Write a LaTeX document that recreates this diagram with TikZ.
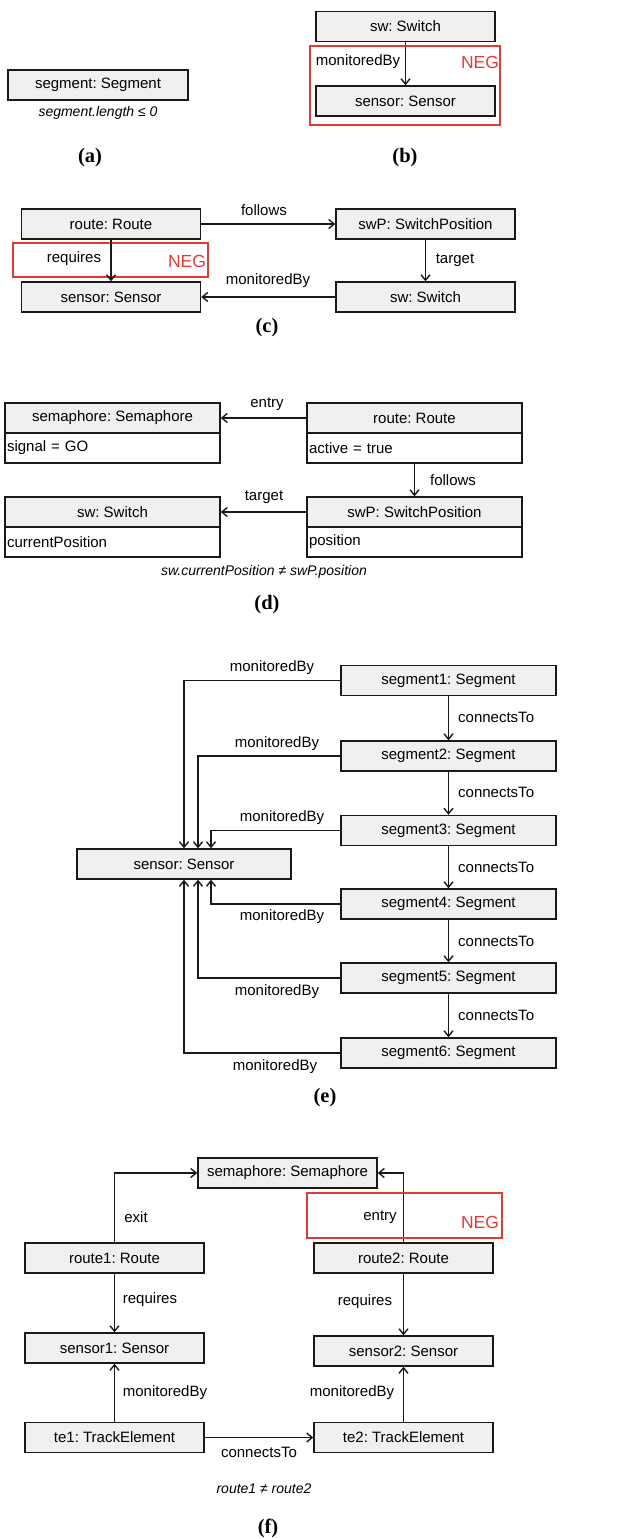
\documentclass[tikz,border=0pt]{standalone}
\usepackage{fontspec}
\setmainfont{Liberation Sans}
\newfontfamily\capfont{Liberation Serif}
\usetikzlibrary{arrows.meta}
\definecolor{boxgray}{RGB}{240,240,240}
\definecolor{negred}{RGB}{229,57,53}
\definecolor{ink}{RGB}{25,25,25}

\begin{document}
\frenchspacing
\begin{tikzpicture}[x=1pt,y=-1pt,
  font=\fontsize{15}{18}\selectfont,
  obj/.style={draw=ink, line width=1.4pt, fill=boxgray, minimum width=179pt,
              minimum height=30pt, inner sep=0pt},
  attr/.style={draw=ink, line width=1.4pt, fill=white, minimum height=30pt,
               text width=211pt, inner xsep=2pt, inner ysep=0pt, align=left},
  arr/.style={draw=ink, line width=1.4pt,
              -{Straight Barb[length=5.5pt,width=9pt]}},
  neg/.style={draw=negred, line width=1.4pt},
  negtxt/.style={text=negred, inner sep=0pt, font=\fontsize{17.5}{20}\selectfont},
  lbl/.style={inner sep=0pt},
  cons/.style={inner sep=0pt, font=\fontsize{14}{17}\selectfont\itshape},
  subcap/.style={inner sep=0pt, font=\capfont\bfseries\fontsize{20.5}{24}\selectfont},
]
\useasboundingbox (0,0) rectangle (627,1539);

% ---------- (a) ----------
\node[obj, minimum width=180pt] (aseg) at (98,85) {segment: Segment};
\node[cons] (acons) at (98,113) {segment.length ≤ 0};
\node[subcap] (capa) at (90,158) {(a)};

% ---------- (b) ----------
\node[obj] (bsw) at (405.5,26.5) {sw: Switch};
\node[obj] (bsen) at (405.5,101) {sensor: Sensor};
\draw[arr] (bsw.south) -- (bsen.north);
\node[lbl] (bmon) at (358,62) {monitoredBy};
\draw[neg] (310,46) rectangle (500,125);
\node[negtxt] (bneg) at (480,62) {NEG};
\node[subcap] (capb) at (405,158) {(b)};

% ---------- (c) ----------
\node[obj] (croute) at (111,224) {route: Route};
\node[obj] (cswp) at (425.5,224) {swP: SwitchPosition};
\node[obj] (csen) at (111,297) {sensor: Sensor};
\node[obj] (csw) at (425.5,297) {sw: Switch};
\draw[arr] (croute.east) -- (cswp.west);
\node[lbl] (cfol) at (264,210) {follows};
\draw[neg] (13,243) rectangle (208,277);
\draw[arr] (croute.south) -- (csen.north);
\node[lbl] (creq) at (74,259) {requires};
\node[negtxt] (cneg) at (187,261) {NEG};
\draw[arr] (cswp.south) -- (csw.north);
\node[lbl] (ctar) at (455,260) {target};
\draw[arr] (csw.west) -- (csen.east);
\node[lbl] (cmon) at (268,281) {monitoredBy};
\node[subcap] (capc) at (267,328) {(c)};

% ---------- (d) ----------
\node[obj, minimum width=215pt] (dsem) at (112.5,418) {semaphore: Semaphore};
\node[attr] (dsemA) at (112.5,448) {signal = GO};
\node[obj, minimum width=215pt] (droute) at (414.5,418) {route: Route};
\node[attr] (drouteA) at (414.5,448) {active = true};
\node[obj, minimum width=215pt] (dsw) at (112.5,512) {sw: Switch};
\node[attr] (dswA) at (112.5,542) {currentPosition};
\node[obj, minimum width=215pt] (dswp) at (414.5,512) {swP: SwitchPosition};
\node[attr] (dswpA) at (414.5,542) {position};
\draw[arr] (droute.west) -- (dsem.east);
\node[lbl] (dent) at (267,404) {entry};
\draw[arr] (drouteA.south) -- (dswp.north);
\node[lbl] (dfol) at (453,480) {follows};
\draw[arr] (dswp.west) -- (dsw.east);
\node[lbl] (dtar) at (264,497) {target};
\node[cons] (dcons) at (264,572) {sw.currentPosition ≠ swP.position};
\node[subcap] (capd) at (267,605) {(d)};

% ---------- (e) ----------
\foreach \i/\y in {1/680.5, 2/756, 3/830.5, 4/904, 5/978, 6/1053}
  \node[obj, minimum width=215pt] (eseg\i) at (448.5,\y) {segment\i: Segment};
\node[obj, minimum width=214pt] (esen) at (184,864) {sensor: Sensor};
\foreach \a/\b/\y in {1/2/717, 2/3/792, 3/4/867, 4/5/941, 5/6/1015}{
  \draw[arr] (eseg\a.south) -- (eseg\b.north);
  \node[lbl, anchor=west] (econ\a) at (458,\y) {connectsTo};
}
\draw[arr] (eseg1.west) -| (esen.north);
\draw[arr] (eseg2.west) -| ([xshift=14pt]esen.north);
\draw[arr] (eseg3.west) -| ([xshift=27pt]esen.north);
\draw[arr] (eseg4.west) -| ([xshift=27pt]esen.south);
\draw[arr] (eseg5.west) -| ([xshift=14pt]esen.south);
\draw[arr] (eseg6.west) -| (esen.south);
\node[lbl] (emon1) at (272,668) {monitoredBy};
\node[lbl] (emon2) at (277,744) {monitoredBy};
\node[lbl] (emon3) at (282,818) {monitoredBy};
\node[lbl] (emon4) at (282,917) {monitoredBy};
\node[lbl] (emon5) at (277,992) {monitoredBy};
\node[lbl] (emon6) at (275,1067) {monitoredBy};
\node[subcap] (cape) at (325,1098) {(e)};

% ---------- (f) ----------
\node[obj] (fsem) at (287.5,1173) {semaphore: Semaphore};
\node[obj] (froute1) at (114.5,1258) {route1: Route};
\node[obj] (froute2) at (403.5,1258) {route2: Route};
\node[obj] (fsen1) at (114.5,1348) {sensor1: Sensor};
\node[obj] (fsen2) at (403.5,1351) {sensor2: Sensor};
\node[obj] (fte1) at (114.5,1437.5) {te1: TrackElement};
\node[obj] (fte2) at (403.5,1437.5) {te2: TrackElement};
\draw[arr] (froute1.north) |- (fsem.west);
\node[lbl] (fexit) at (136,1217) {exit};
\draw[arr] (froute2.north) |- (fsem.east);
\node[lbl] (fent) at (380,1217) {entry};
\draw[neg] (307,1193) rectangle (502,1238);
\node[negtxt] (fneg) at (480,1222) {NEG};
\draw[arr] (froute1.south) -- (fsen1.north);
\node[lbl] (freq1) at (150,1300) {requires};
\draw[arr] (froute2.south) -- (fsen2.north);
\node[lbl] (freq2) at (365,1302) {requires};
\draw[arr] (fte1.north) -- (fsen1.south);
\node[lbl] (fmon1) at (165,1393) {monitoredBy};
\draw[arr] (fte2.north) -- (fsen2.south);
\node[lbl] (fmon2) at (352,1393) {monitoredBy};
\draw[arr] (fte1.east) -- (fte2.west);
\node[lbl] (fcon) at (259,1452) {connectsTo};
\node[cons] (fcons) at (264,1489) {route1 ≠ route2};
\node[subcap] (capf) at (268,1528) {(f)};
\end{tikzpicture}
\end{document}
